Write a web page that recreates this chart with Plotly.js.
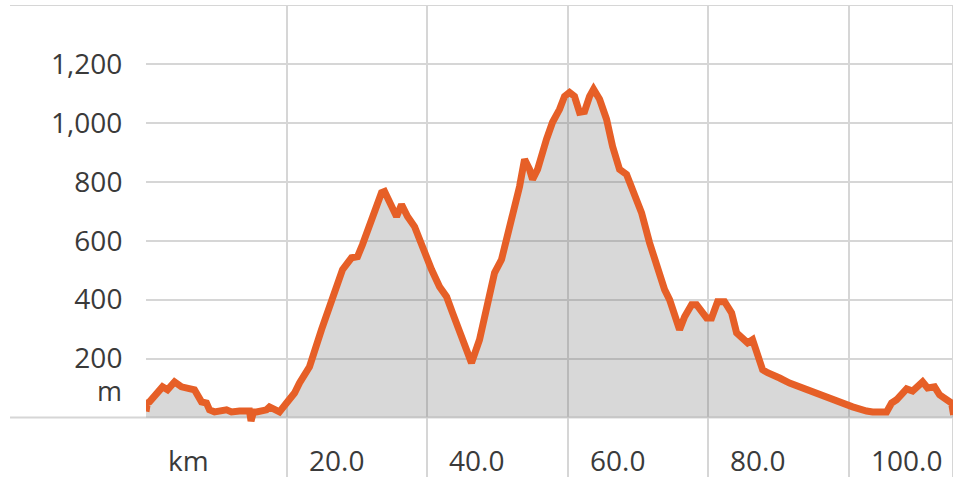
<!DOCTYPE html>
<html>
<head>
<meta charset="utf-8">
<script src="https://cdn.plot.ly/plotly-3.0.1.min.js"></script>
<style>html,body{margin:0;padding:0;background:#fff;}#chart{width:966px;height:491px;}</style>
</head>
<body>
<div id="chart"></div>
<script>
// distance along route (km)
const distanceKm = [0, 0.2, 0.5, 1.21, 2.35, 3.06, 4.06, 5.05, 6.19, 6.9, 7.9, 8.61, 9.04, 9.75, 11.46, 12.17, 13.31, 14.73, 14.95, 15.3, 15.73, 17.15, 17.58, 18.58, 19.0, 20.0, 21.14, 21.85, 23.27, 24.98, 26.41, 27.97, 29.25, 30.11, 30.82, 32.1, 33.52, 33.95, 34.66, 35.66, 36.37, 37.22, 38.22, 39.36, 40.64, 41.78, 42.78, 43.63, 44.63, 45.62, 46.33, 47.47, 48.9, 49.61, 50.6, 51.3, 52.17, 53.17, 53.88, 54.59, 55.02, 55.73, 57.0, 57.86, 58.86, 59.57, 60.28, 60.99, 61.7, 62.42, 63.13, 63.7, 64.56, 65.55, 66.41, 67.4, 68.4, 69.25, 70.53, 71.67, 72.81, 73.81, 74.52, 75.23, 75.94, 76.66, 77.65, 78.36, 79.07, 79.79, 80.5, 80.93, 81.35, 82.35, 83.35, 84.06, 84.91, 85.62, 86.33, 87.05, 87.76, 88.47, 89.47, 90.18, 91.6, 93.02, 94.45, 96.87, 98.72, 100.57, 102.56, 103.42, 105.41, 106.12, 106.83, 107.54, 108.26, 109.11, 109.82, 110.53, 111.24, 112.24, 112.95, 113.95, 114.66, 114.95];
// elevation (m)
const elevationM = [20, 50, 53, 70, 104, 94, 121, 104, 100, 94, 53, 49, 26, 19, 26, 19, 22, 22, -12, 19, 19, 26, 36, 19, 19, 49, 83, 117, 172, 298, 389, 502, 542, 546, 587, 672, 763, 767, 730, 682, 723, 682, 648, 576, 502, 444, 410, 355, 287, 230, 185, 264, 400, 491, 536, 604, 682, 784, 876, 842, 808, 842, 944, 1002, 1046, 1090, 1103, 1090, 1036, 1039, 1090, 1114, 1080, 1012, 920, 842, 825, 774, 695, 593, 502, 434, 400, 342, 298, 342, 383, 383, 355, 338, 338, 366, 393, 393, 355, 287, 270, 253, 264, 220, 162, 152, 145, 134, 117, 104, 87, 70, 53, 36, 22, 19, 19, 49, 60, 83, 97, 90, 104, 121, 100, 104, 77, 60, 49, 9];

const xTickVals = [0, 20, 40, 60, 80, 100];
const xTickLabels = ["km", "20.0", "40.0", "60.0", "80.0", "100.0"];
const yTickVals = [200, 400, 600, 800, 1000, 1200];
const yUnitLabel = "m";
const yUnitAt = 90;
const xMax = 114.86;
const yMin = -202, yMax = 1400;

const textColor = "#3a3a3a";
const gridColor = "#d6d6d6";
const fontFamily = "'Open Sans', sans-serif";

const trace = {
  x: distanceKm, y: elevationM,
  type: "scatter", mode: "lines",
  line: {color: "#e65f27", width: 7},
  fill: "tozeroy",
  fillcolor: "rgba(100,100,100,0.25)",
  hoverinfo: "skip"
};

const annotations = xTickVals.map((v, i) => ({
  x: v, y: -145, xref: "x", yref: "y",
  text: xTickLabels[i], showarrow: false,
  xanchor: "left", yanchor: "middle", xshift: 20,
  font: {family: fontFamily, size: 28, color: textColor}
}));
annotations.push({
  x: 0, y: yUnitAt, xref: "paper", yref: "y",
  text: yUnitLabel, showarrow: false, borderpad: 0,
  xanchor: "right", yanchor: "middle", xshift: -23,
  font: {family: fontFamily, size: 27, color: textColor}
});

const layout = {
  width: 966, height: 491,
  margin: {l: 146, r: 13, t: 5, b: 14, pad: 0},
  paper_bgcolor: "#ffffff", plot_bgcolor: "#ffffff",
  showlegend: false,
  xaxis: {
    range: [0, xMax], tickvals: xTickVals, showticklabels: false,
    showgrid: true, gridcolor: gridColor, gridwidth: 2,
    zeroline: false, showline: false, ticks: "", fixedrange: true
  },
  yaxis: {
    range: [yMin, yMax], tickvals: yTickVals, tickformat: ",",
    showgrid: true, gridcolor: gridColor, gridwidth: 2,
    zeroline: false, showline: false,
    ticks: "outside", ticklen: 17, tickcolor: "rgba(0,0,0,0)",
    tickfont: {family: fontFamily, size: 28, color: textColor}, fixedrange: true
  },
  shapes: [
    {type: "line", layer: "below", xref: "paper", yref: "y", x0: -0.1685, x1: 1, y0: 0, y1: 0, line: {color: gridColor, width: 2}},
    {type: "line", layer: "below", xref: "paper", yref: "y", x0: -0.1685, x1: 1, y0: yMax, y1: yMax, line: {color: gridColor, width: 2}},
    {type: "line", layer: "below", xref: "x", yref: "paper", x0: xMax, x1: xMax, y0: 0, y1: 1, line: {color: gridColor, width: 2}}
  ],
  annotations: annotations
};

Plotly.newPlot("chart", [trace], layout, {staticPlot: true, displayModeBar: false});
</script>
</body>
</html>
